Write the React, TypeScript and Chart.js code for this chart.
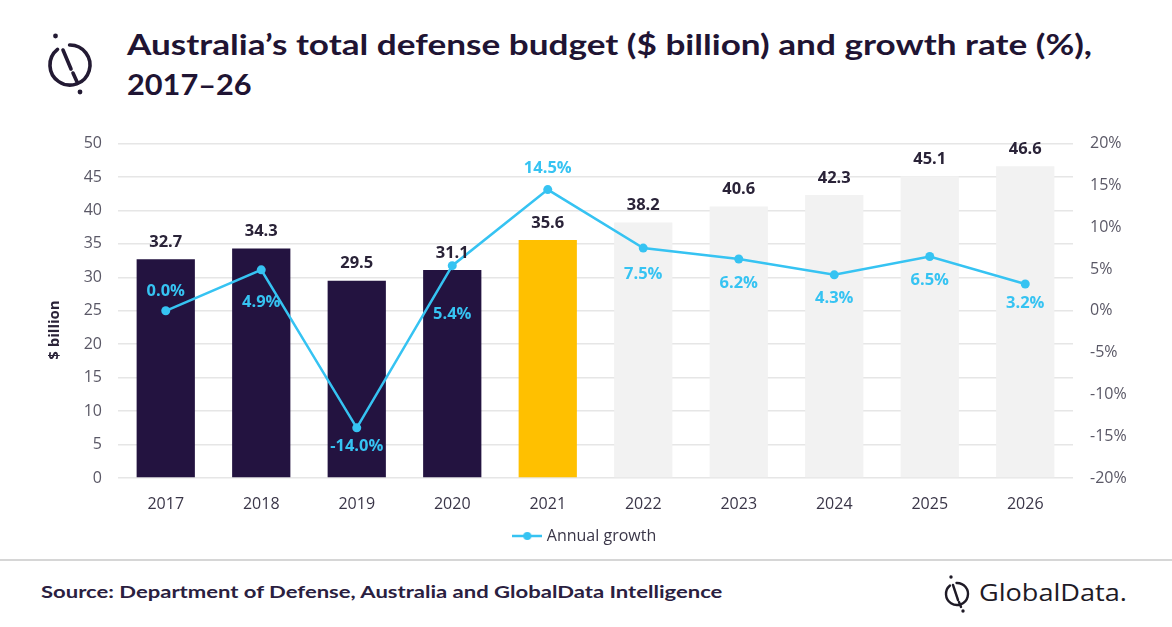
import React, { useEffect, useLayoutEffect, useRef } from "react";
import { Chart, registerables } from "chart.js";

Chart.register(...registerables);

const categories = ["2017", "2018", "2019", "2020", "2021", "2022", "2023", "2024", "2025", "2026"];
const budgetBillion = [32.7, 34.3, 29.5, 31.1, 35.6, 38.2, 40.6, 42.3, 45.1, 46.6];
const annualGrowth = [0.0, 4.9, -14.0, 5.4, 14.5, 7.5, 6.2, 4.3, 6.5, 3.2];
const budgetAxis = { min: 0, max: 50, step: 5 };
const growthAxis = { min: -20, max: 20, step: 5 };

const NAVY = "#231340";
const YELLOW = "#FFC000";
const LIGHT = "#F2F2F2";
const CYAN = "#36C3F2";
const TEXT = "#2a2338";
const TICK = "#5a5866";
const LOGO = "#231a33";

const barColors = [NAVY, NAVY, NAVY, NAVY, YELLOW, LIGHT, LIGHT, LIGHT, LIGHT, LIGHT];
// vertical offset (px) of each growth label from its point
const growthLabelDy = [-20, 32, 18, 49, -21, 26, 24, 23, 24, 19];

const CANVAS_TOP = 117;
const CANVAS_H = 438;

function makeLegendIcon(): HTMLCanvasElement {
  const c = document.createElement("canvas");
  c.width = 30;
  c.height = 10;
  const g = c.getContext("2d")!;
  g.strokeStyle = CYAN;
  g.lineWidth = 2.5;
  g.beginPath();
  g.moveTo(0, 5);
  g.lineTo(30, 5);
  g.stroke();
  g.fillStyle = CYAN;
  g.beginPath();
  g.arc(15, 5, 4, 0, Math.PI * 2);
  g.fill();
  return c;
}

const labelPlugin = {
  id: "valueLabels",
  afterDatasetsDraw(chart: any) {
    const ctx = chart.ctx;
    const barMeta = chart.getDatasetMeta(0);
    const lineMeta = chart.getDatasetMeta(1);
    ctx.save();
    ctx.textAlign = "center";
    ctx.textBaseline = "middle";
    ctx.font = 'bold 16.5px "Open Sans"';
    ctx.fillStyle = TEXT;
    barMeta.data.forEach((el: any, i: number) => {
      ctx.fillText(budgetBillion[i].toFixed(1), el.x, el.y - 17);
    });
    ctx.fillStyle = CYAN;
    lineMeta.data.forEach((el: any, i: number) => {
      ctx.fillText(annualGrowth[i].toFixed(1) + "%", el.x, el.y + growthLabelDy[i]);
    });
    ctx.translate(55, 330 - CANVAS_TOP);
    ctx.rotate(-Math.PI / 2);
    ctx.font = 'bold 15px "Open Sans"';
    ctx.fillStyle = TEXT;
    ctx.fillText("$ billion", 0, 0);
    ctx.restore();
  },
};

function FitText(props: { width: number; style: React.CSSProperties; children: React.ReactNode }) {
  const ref = useRef<HTMLDivElement | null>(null);
  useLayoutEffect(() => {
    const el = ref.current;
    if (!el) return;
    const apply = () => {
      el.style.transform = "none";
      const w = el.scrollWidth;
      if (w > 0) el.style.transform = `scaleX(${props.width / w})`;
    };
    apply();
    if ((document as any).fonts && (document as any).fonts.ready) {
      (document as any).fonts.ready.then(apply);
    }
  }, [props.width]);
  return (
    <div ref={ref} style={{ ...props.style, position: "absolute", whiteSpace: "nowrap", transformOrigin: "0 0", display: "inline-block" }}>
      {props.children}
    </div>
  );
}

function HeaderLogo() {
  return (
    <svg width="120" height="110" style={{ position: "absolute", left: 0, top: 0 }} viewBox="0 0 120 110">
      <path d="M 69.6 45.05 A 20 20 0 1 1 57.5 49.4" fill="none" stroke={LOGO} strokeWidth="3.6" strokeLinecap="round" />
      <line x1="63" y1="50" x2="71" y2="69" stroke={LOGO} strokeWidth="3.6" strokeLinecap="round" />
      <line x1="73" y1="73" x2="77.5" y2="83" stroke={LOGO} strokeWidth="3.6" strokeLinecap="round" />
      <circle cx="55.5" cy="36" r="2.4" fill={LOGO} />
      <circle cx="80" cy="92" r="2.4" fill={LOGO} />
    </svg>
  );
}

function FooterLogo() {
  const c = "#1e1a26";
  return (
    <>
      <svg width="40" height="50" style={{ position: "absolute", left: 937, top: 570 }} viewBox="0 0 40 50">
        <path d="M 19.5 13 A 11 11 0 1 1 13 15.5" fill="none" stroke={c} strokeWidth="2.4" strokeLinecap="round" />
        <line x1="16" y1="15" x2="21" y2="30" stroke={c} strokeWidth="2.4" strokeLinecap="round" />
        <line x1="22" y1="32" x2="24" y2="37" stroke={c} strokeWidth="2.4" strokeLinecap="round" />
        <circle cx="14" cy="7" r="1.7" fill={c} />
        <circle cx="26" cy="41" r="1.7" fill={c} />
      </svg>
      <FitText width={148} style={{ left: 979, top: 575, fontFamily: '"Open Sans", sans-serif', fontSize: 24, lineHeight: "33px", color: c }}>
        GlobalData.
      </FitText>
    </>
  );
}

export default function App() {
  const canvasRef = useRef<HTMLCanvasElement | null>(null);

  useEffect(() => {
    if (!canvasRef.current) return;
    const legendIcon = makeLegendIcon();
    const chart = new Chart(canvasRef.current, {
      type: "bar",
      data: {
        labels: categories,
        datasets: [
          {
            type: "bar",
            label: "Defense budget",
            data: budgetBillion,
            backgroundColor: barColors,
            borderWidth: 0,
            barPercentage: 0.61,
            categoryPercentage: 1,
            yAxisID: "y",
            order: 1,
          },
          {
            type: "line",
            label: "Annual growth",
            data: annualGrowth,
            borderColor: CYAN,
            backgroundColor: CYAN,
            borderWidth: 2.5,
            pointRadius: 4.5,
            pointBackgroundColor: CYAN,
            pointBorderWidth: 0,
            tension: 0,
            yAxisID: "y1",
            order: 0,
          },
        ],
      } as any,
      options: {
        responsive: false,
        maintainAspectRatio: false,
        animation: false,
        devicePixelRatio: 1,
        layout: { padding: { top: 9, bottom: 1, left: 0, right: 0 } },
        plugins: {
          tooltip: { enabled: false },
          legend: {
            position: "bottom",
            labels: {
              usePointStyle: true,
              pointStyleWidth: 23,
              padding: 8,
              color: "#3a3648",
              font: { family: '"Open Sans"', size: 16 },
              generateLabels: () => [
                {
                  text: "Annual growth",
                  pointStyle: legendIcon,
                  fillStyle: CYAN,
                  strokeStyle: CYAN,
                  lineWidth: 0,
                  hidden: false,
                  datasetIndex: 1,
                  fontColor: "#3a3648",
                },
              ],
            },
          },
        },
        scales: {
          x: {
            grid: { display: false, drawTicks: false },
            border: { display: false },
            ticks: { color: "#3a3648", font: { family: '"Open Sans"', size: 16 }, padding: 17 },
            afterFit: (scale: any) => {
              scale.height = 42;
            },
          },
          y: {
            position: "left",
            min: budgetAxis.min,
            max: budgetAxis.max,
            ticks: { stepSize: budgetAxis.step, color: TICK, font: { family: '"Open Sans"', size: 16 }, padding: 16 },
            grid: { color: "#e6e6e6", lineWidth: 1.5, drawTicks: false },
            border: { display: false },
            afterFit: (scale: any) => {
              scale.width = 118;
            },
          },
          y1: {
            position: "right",
            min: growthAxis.min,
            max: growthAxis.max,
            ticks: {
              stepSize: growthAxis.step,
              color: TICK,
              font: { family: '"Open Sans"', size: 16 },
              padding: 17,
              callback: (v: any) => v + "%",
            },
            grid: { display: false, drawTicks: false },
            border: { display: false },
            afterFit: (scale: any) => {
              scale.width = 99;
            },
          },
        },
      } as any,
      plugins: [labelPlugin],
    });
    return () => chart.destroy();
  }, []);

  return (
    <div style={{ position: "absolute", left: 0, top: 0, width: 1172, height: 627, background: "#fff", overflow: "hidden" }}>
      <HeaderLogo />
      <FitText
        width={965}
        style={{ left: 127, top: 24, fontFamily: "Lato, sans-serif", fontWeight: 700, fontSize: 28, lineHeight: "40px", color: "#1f1433" }}
      >
        Australia’s total defense budget ($ billion) and growth rate (%),
      </FitText>
      <FitText
        width={125}
        style={{ left: 127, top: 64, fontFamily: "Lato, sans-serif", fontWeight: 700, fontSize: 28, lineHeight: "40px", color: "#1f1433" }}
      >
        2017–26
      </FitText>
      <canvas
        ref={canvasRef}
        width={1172}
        height={CANVAS_H}
        style={{ position: "absolute", left: 0, top: CANVAS_TOP, width: 1172, height: CANVAS_H }}
      />
      <div style={{ position: "absolute", left: 0, top: 559, width: 1172, height: 0, borderTop: "2px solid #d6d6d6" }} />
      <FitText
        width={682}
        style={{ left: 41, top: 582, fontFamily: "Lato, sans-serif", fontWeight: 700, fontSize: 17, lineHeight: "20px", color: "#2a2040" }}
      >
        Source: Department of Defense, Australia and GlobalData Intelligence
      </FitText>
      <FooterLogo />
    </div>
  );
}
